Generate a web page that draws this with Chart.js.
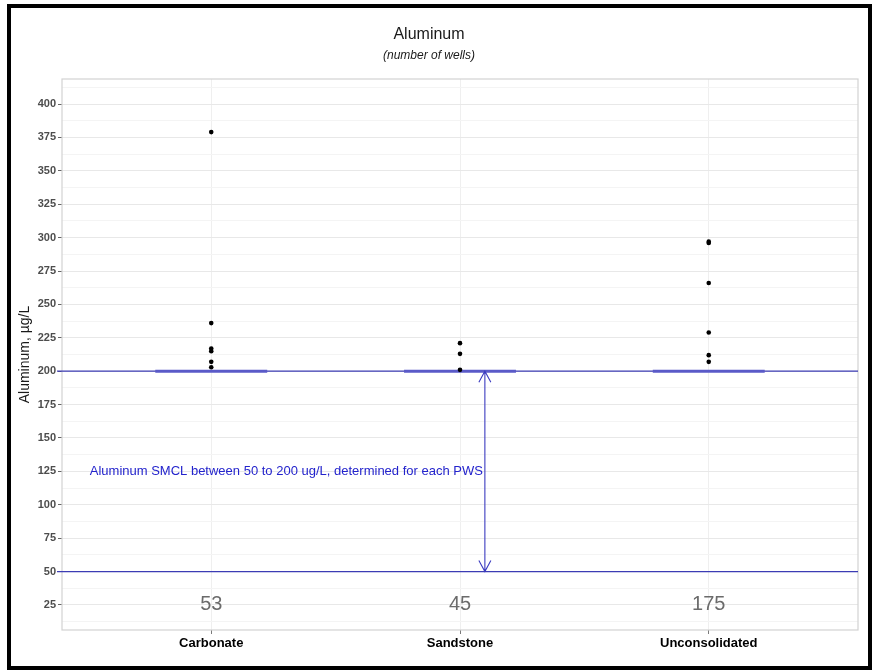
<!DOCTYPE html>
<html><head><meta charset="utf-8">
<script src="https://cdn.jsdelivr.net/npm/chart.js@4.4.0/dist/chart.umd.min.js"></script>
<style>html,body{margin:0;padding:0;background:#fff;}#wrap{width:872px;height:672px;position:relative;}</style>
</head><body><div id="wrap"><canvas id="c" width="872" height="672"></canvas></div>
<script>
const categories = ['Carbonate', 'Sandstone', 'Unconsolidated'];
const carbonateValues = [379, 236, 217, 215, 207, 203];
const sandstoneValues = [221, 213, 201];
const unconsolidatedValues = [297, 296, 266, 229, 212, 207];
const wellCounts = [53, 45, 175];
const boxMedians = [200, 200, 200];
const smclLimits = [50, 200];
const yTickLabels = [25, 50, 75, 100, 125, 150, 175, 200, 225, 250, 275, 300, 325, 350, 375, 400];
const annotationText = 'Aluminum SMCL between 50 to 200 ug/L, determined for each PWS';
const annotationY = 125;
const arrowX = 1.1;
const countLabelY = 25;
const yMin = 6.25, yMax = 418.75;
const xMin = -0.6, xMax = 2.6;
const boxHalfWidth = 0.225;

const FAMILY = '"Liberation Sans", Arial, Helvetica, sans-serif';
const majorSet = new Set(yTickLabels);

const pointSeries = [carbonateValues, sandstoneValues, unconsolidatedValues];
const pointDatasets = pointSeries.map((vals, i) => ({
  label: categories[i],
  data: vals.map(v => ({x: i, y: v})),
  pointRadius: 2.3, pointBackgroundColor: '#000', pointBorderColor: '#000', pointBorderWidth: 0,
  showLine: false, order: 0
}));
const boxDatasets = boxMedians.map((m, i) => ({
  label: 'box' + i,
  data: [{x: i - boxHalfWidth, y: m}, {x: i + boxHalfWidth, y: m}],
  showLine: true, borderColor: '#5a5ac8', borderWidth: 3, pointRadius: 0, order: 1
}));
const limitDatasets = smclLimits.map(v => ({
  label: 'smcl' + v,
  data: [{x: xMin - 0.02, y: v}, {x: xMax, y: v}],
  showLine: true, borderColor: '#3c3cb4', borderWidth: 1.2, pointRadius: 0, clip: false, order: 2
}));

const overlay = {
  id: 'overlay',
  beforeDatasetsDraw(chart) {
    const {ctx, chartArea: a} = chart;
    ctx.save();
    ctx.strokeStyle = '#d2d2d2'; ctx.lineWidth = 1.2;
    ctx.strokeRect(a.left, a.top, a.right - a.left, a.bottom - a.top);
    ctx.restore();
  },
  afterDatasetsDraw(chart) {
    const {ctx, scales: {x, y}} = chart;
    const ax = x.getPixelForValue(arrowX);
    const yTop = y.getPixelForValue(smclLimits[1]);
    const yBot = y.getPixelForValue(smclLimits[0]);
    ctx.save();
    ctx.strokeStyle = '#3c3cc0'; ctx.lineWidth = 1.1;
    ctx.beginPath();
    ctx.moveTo(ax, yTop); ctx.lineTo(ax, yBot);
    ctx.moveTo(ax - 6, yTop + 11); ctx.lineTo(ax, yTop); ctx.lineTo(ax + 6, yTop + 11);
    ctx.moveTo(ax - 6, yBot - 11); ctx.lineTo(ax, yBot); ctx.lineTo(ax + 6, yBot - 11);
    ctx.stroke();
    ctx.fillStyle = '#2323cc';
    ctx.font = '13px ' + FAMILY;
    ctx.textAlign = 'right'; ctx.textBaseline = 'middle';
    ctx.fillText(annotationText, ax - 2, y.getPixelForValue(annotationY));
    ctx.fillStyle = '#6b6b6b';
    ctx.font = '20px ' + FAMILY;
    ctx.textAlign = 'center';
    wellCounts.forEach((n, i) => {
      ctx.fillText(String(n), x.getPixelForValue(i), y.getPixelForValue(countLabelY));
    });
    ctx.restore();
  },
  afterDraw(chart) {
    const ctx = chart.ctx;
    ctx.save();
    ctx.fillStyle = '#000';
    ctx.fillRect(7, 4, 865, 4);
    ctx.fillRect(7, 4, 4, 666);
    ctx.fillRect(868, 4, 4, 666);
    ctx.fillRect(7, 666, 865, 4);
    ctx.restore();
  }
};

new Chart(document.getElementById('c'), {
  type: 'scatter',
  data: {datasets: [...pointDatasets, ...boxDatasets, ...limitDatasets]},
  options: {
    responsive: false, animation: false, devicePixelRatio: 1,
    layout: {padding: {left: 0, right: 14, top: 0, bottom: 0}},
    plugins: {
      legend: {display: false}, tooltip: {enabled: false},
      title: {display: true, text: 'Aluminum', color: '#1a1a1a',
        font: {size: 16, weight: 'normal', family: FAMILY}, padding: {top: 25.4, bottom: 4.2}},
      subtitle: {display: true, text: '(number of wells)', color: '#1a1a1a',
        font: {size: 12, style: 'italic', family: FAMILY}, padding: {top: 0, bottom: 15.8}}
    },
    scales: {
      x: {
        type: 'linear', min: xMin, max: xMax,
        afterBuildTicks: s => { s.ticks = categories.map((c, i) => ({value: i})); },
        afterFit: s => { s.height = 42; },
        ticks: {callback: v => categories[v] ?? '', color: '#000', padding: 2, maxRotation: 0, autoSkip: false,
          font: {size: 13, weight: 'bold', family: FAMILY}},
        grid: {color: '#efefef', tickColor: '#7a7a7a', tickLength: 4, lineWidth: 1},
        border: {display: false}
      },
      y: {
        type: 'linear', min: yMin, max: yMax,
        afterBuildTicks: s => {
          const step = yTickLabels[1] - yTickLabels[0];
          const t = [{value: yTickLabels[0] - step / 2}];
          yTickLabels.forEach((v, i) => {
            t.push({value: v});
            t.push({value: v + step / 2});
          });
          s.ticks = t;
        },
        afterFit: s => { s.width = 62; },
        ticks: {callback: v => majorSet.has(v) ? String(v) : '', color: '#4d4d4d', padding: 2, autoSkip: false,
          font: {size: 11, weight: 'bold', family: FAMILY}},
        grid: {
          color: c => (c.tick && majorSet.has(c.tick.value)) ? '#e8e8e8' : '#f4f4f4',
          tickColor: c => (c.tick && majorSet.has(c.tick.value)) ? '#666' : 'rgba(0,0,0,0)',
          tickLength: 4, lineWidth: 1
        },
        border: {display: false},
        title: {display: true, text: 'Aluminum, µg/L', color: '#1a1a1a',
          font: {size: 14, family: FAMILY}, padding: {top: 17, bottom: 0}}
      }
    }
  },
  plugins: [overlay]
});
</script></body></html>
